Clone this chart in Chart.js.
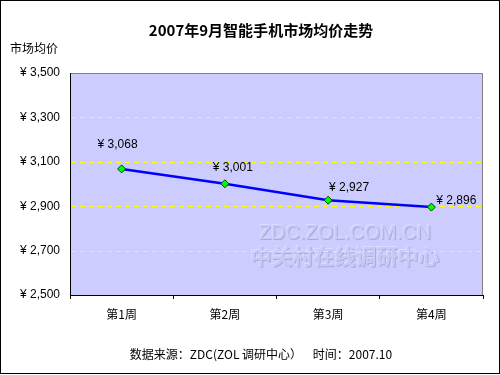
<!DOCTYPE html>
<html>
<head>
<meta charset="utf-8">
<script src="https://cdn.jsdelivr.net/npm/chart.js@4/dist/chart.umd.min.js"></script>
<style>
  html, body { margin: 0; padding: 0; background: #fff; }
  #wrap { width: 500px; height: 375px; }
</style>
</head>
<body>
<div id="wrap"><canvas id="chart" width="500" height="375"></canvas></div>
<script>
// chart data
const weeks = ['第1周', '第2周', '第3周', '第4周'];
const avgPrice = [3068, 3001, 2927, 2896];
const yTicks = [2500, 2700, 2900, 3100, 3300, 3500];

const titleText = '2007年9月智能手机市场均价走势';
const yTitleText = '市场均价';
const footerText = '数据来源：ZDC(ZOL 调研中心）    时间：2007.10';

const FONT = '"Liberation Sans", "Noto Sans CJK SC", sans-serif';

const yen = v => '¥ ' + v.toLocaleString('en-US');

// where each value label sits relative to its point (dx, dy)
const labelShift = [[-4, -24], [8, -16], [21, -13], [25, -6]];

function emboss(ctx, text, x, y) {
  ctx.fillStyle = 'rgba(240,240,255,0.45)';
  ctx.fillText(text, x - 1, y - 1);
  ctx.fillStyle = 'rgba(130,130,175,0.45)';
  ctx.fillText(text, x + 1, y + 1);
  ctx.fillStyle = '#C9C9F8';
  ctx.fillText(text, x, y);
}

// background, grid, border, texts, value labels, watermark
const decor = {
  id: 'decor',
  beforeDraw(chart) {
    const { ctx, chartArea: a } = chart;
    ctx.save();
    ctx.fillStyle = '#fff';
    ctx.fillRect(0, 0, chart.width, chart.height);
    ctx.fillStyle = '#CCCCFF';
    ctx.fillRect(a.left, a.top, a.right - a.left, a.bottom - a.top);
    ctx.restore();
  },
  beforeDatasetsDraw(chart) {
    const { ctx, chartArea: a, scales } = chart;
    ctx.save();
    ctx.textAlign = 'center';
    ctx.textBaseline = 'middle';
    ctx.font = '20px ' + FONT;
    emboss(ctx, 'ZDC.ZOL.COM.CN', 345, 233);
    ctx.font = 'bold 21px "Noto Sans CJK SC", sans-serif';
    emboss(ctx, '中关村在线调研中心', 345, 256);
    // dashed yellow grid lines
    ctx.strokeStyle = '#FFFF00';
    ctx.lineWidth = 1;
    ctx.setLineDash([5, 4]);
    yTicks.slice(1, -1).forEach(v => {
      const y = Math.round(scales.y.getPixelForValue(v)) + 0.5;
      ctx.beginPath();
      ctx.moveTo(a.left + 1, y);
      ctx.lineTo(a.right - 1, y);
      ctx.stroke();
    });
    ctx.restore();
  },
  afterDraw(chart) {
    const { ctx, chartArea: a } = chart;
    ctx.save();
    // plot border: grey top/right, black left/bottom
    ctx.lineWidth = 1;
    ctx.strokeStyle = '#808080';
    ctx.beginPath();
    ctx.moveTo(a.left, a.top + 0.5);
    ctx.lineTo(a.right - 0.5, a.top + 0.5);
    ctx.lineTo(a.right - 0.5, a.bottom);
    ctx.stroke();
    ctx.strokeStyle = '#000';
    ctx.beginPath();
    ctx.moveTo(a.left + 0.5, a.top);
    ctx.lineTo(a.left + 0.5, a.bottom + 0.5);
    ctx.lineTo(a.right, a.bottom + 0.5);
    ctx.stroke();
    // outer frame
    ctx.strokeRect(0.5, 0.5, chart.width - 1, chart.height - 2);

    // texts
    ctx.fillStyle = '#000';
    ctx.textBaseline = 'middle';
    ctx.textAlign = 'center';
    ctx.font = 'bold 15px "Noto Sans CJK SC", sans-serif';
    ctx.fillText(titleText, 261, 30);
    ctx.font = '12px "Noto Sans CJK SC", sans-serif';
    ctx.fillText(footerText, 261, 354);
    ctx.textAlign = 'left';
    ctx.fillText(yTitleText, 10, 48);

    // value labels
    ctx.font = '12px ' + FONT;
    ctx.textAlign = 'center';
    const meta = chart.getDatasetMeta(0);
    meta.data.forEach((pt, i) => {
      const [dx, dy] = labelShift[i];
      ctx.fillText(yen(avgPrice[i]), pt.x + dx, pt.y + dy);
    });
    ctx.restore();
  }
};

const ctx = document.getElementById('chart').getContext('2d');
new Chart(ctx, {
  type: 'line',
  data: {
    labels: weeks,
    datasets: [{
      data: avgPrice,
      borderColor: '#0000FF',
      borderWidth: 2.5,
      tension: 0,
      pointStyle: 'rectRot',
      pointRadius: 4,
      pointBackgroundColor: '#00FF00',
      pointBorderColor: '#004000',
      pointBorderWidth: 1
    }]
  },
  options: {
    responsive: false,
    animation: false,
    layout: { padding: { left: 0, top: 73, right: 17, bottom: 0 } },
    plugins: { legend: { display: false }, tooltip: { enabled: false } },
    scales: {
      x: {
        offset: true,
        afterFit: s => { s.height = 80; },
        border: { display: false },
        grid: { offset: true, drawOnChartArea: false, drawTicks: true, tickLength: 4, color: '#000' },
        ticks: { color: '#000', padding: 8, font: { size: 12, family: '"Noto Sans CJK SC", sans-serif' } }
      },
      y: {
        min: 2500,
        max: 3500,
        afterFit: s => { s.width = 70; },
        afterBuildTicks: s => { s.ticks = yTicks.map(v => ({ value: v })); },
        border: { display: false },
        grid: { display: false, drawTicks: false },
        ticks: {
          color: '#000',
          padding: 10,
          font: { size: 12, family: FONT },
          callback: v => yen(v)
        }
      }
    }
  },
  plugins: [decor]
});
</script>
</body>
</html>
